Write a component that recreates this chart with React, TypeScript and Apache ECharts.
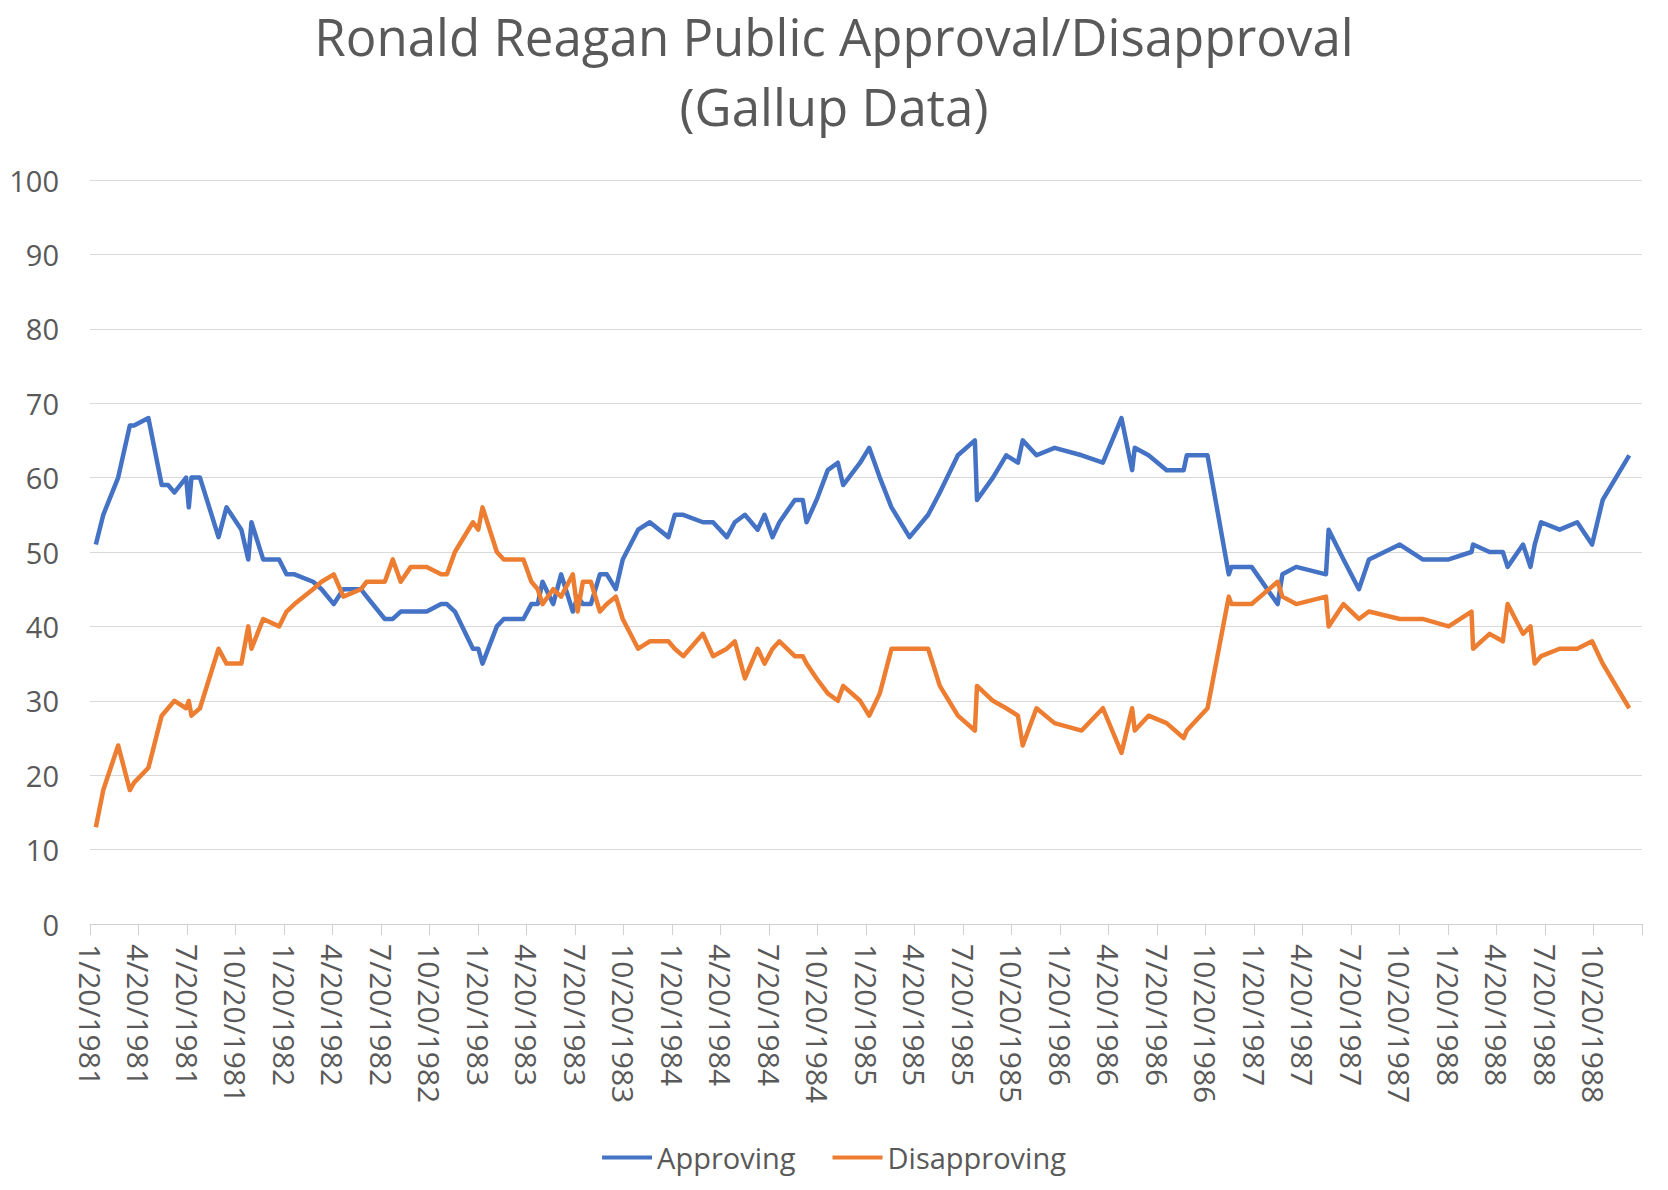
import React, { useEffect, useRef } from "react";
import * as echarts from "echarts";

const pollDates = [
  "1981-01-31", "1981-02-14", "1981-03-14", "1981-04-05", "1981-04-13", "1981-05-10",
  "1981-06-04", "1981-06-16", "1981-06-28", "1981-07-20", "1981-07-25", "1981-07-30",
  "1981-08-15", "1981-09-19", "1981-10-04", "1981-11-01", "1981-11-14", "1981-11-20",
  "1981-12-12", "1982-01-11", "1982-01-25", "1982-02-09", "1982-03-16", "1982-04-01",
  "1982-04-24", "1982-05-12", "1982-06-14", "1982-06-25", "1982-07-29", "1982-08-13",
  "1982-08-28", "1982-09-16", "1982-10-16", "1982-11-12", "1982-11-23", "1982-12-08",
  "1983-01-11", "1983-01-21", "1983-01-29", "1983-02-25", "1983-03-10", "1983-04-16",
  "1983-05-01", "1983-05-13", "1983-05-22", "1983-06-11", "1983-06-26", "1983-07-18",
  "1983-07-27", "1983-08-06", "1983-08-21", "1983-09-07", "1983-09-20", "1983-10-07",
  "1983-10-20", "1983-11-18", "1983-12-10", "1984-01-14", "1984-01-26", "1984-02-11",
  "1984-03-19", "1984-04-07", "1984-05-03", "1984-05-18", "1984-06-06", "1984-06-30",
  "1984-07-13", "1984-07-28", "1984-08-10", "1984-09-08", "1984-09-23", "1984-09-30",
  "1984-10-19", "1984-11-09", "1984-11-28", "1984-12-08", "1985-01-09", "1985-01-26",
  "1985-02-15", "1985-03-09", "1985-04-12", "1985-05-17", "1985-06-08", "1985-07-12",
  "1985-08-13", "1985-08-17", "1985-09-16", "1985-10-11", "1985-11-02", "1985-11-11",
  "1985-12-07", "1986-01-10", "1986-03-02", "1986-04-11", "1986-05-16", "1986-06-05",
  "1986-06-10", "1986-07-06", "1986-08-09", "1986-09-10", "1986-09-16", "1986-10-25",
  "1986-12-04", "1986-12-09", "1987-01-16", "1987-03-06", "1987-03-15", "1987-04-10",
  "1987-06-05", "1987-06-10", "1987-07-08", "1987-08-06", "1987-08-25", "1987-10-22",
  "1987-12-04", "1988-01-22", "1988-03-05", "1988-03-08", "1988-04-08", "1988-05-03",
  "1988-05-12", "1988-06-10", "1988-06-24", "1988-07-02", "1988-07-14", "1988-08-18",
  "1988-09-20", "1988-10-18", "1988-11-07", "1988-12-27",
];

const approving = [
  51, 55, 60, 67, 67, 68,
  59, 59, 58, 60, 56, 60,
  60, 52, 56, 53, 49, 54,
  49, 49, 47, 47, 46, 45,
  43, 45, 45, 44, 41, 41,
  42, 42, 42, 43, 43, 42,
  37, 37, 35, 40, 41, 41,
  43, 43, 46, 43, 47, 42,
  44, 43, 43, 47, 47, 45,
  49, 53, 54, 52, 55, 55,
  54, 54, 52, 54, 55, 53,
  55, 52, 54, 57, 57, 54,
  57, 61, 62, 59, 62, 64,
  60, 56, 52, 55, 58, 63,
  65, 57, 60, 63, 62, 65,
  63, 64, 63, 62, 68, 61,
  64, 63, 61, 61, 63, 63,
  47, 48, 48, 43, 47, 48,
  47, 53, 49, 45, 49, 51,
  49, 49, 50, 51, 50, 50,
  48, 51, 48, 51, 54, 53,
  54, 51, 57, 63,
];

const disapproving = [
  13, 18, 24, 18, 19, 21,
  28, 29, 30, 29, 30, 28,
  29, 37, 35, 35, 40, 37,
  41, 40, 42, 43, 45, 46,
  47, 44, 45, 46, 46, 49,
  46, 48, 48, 47, 47, 50,
  54, 53, 56, 50, 49, 49,
  46, 45, 43, 45, 44, 47,
  42, 46, 46, 42, 43, 44,
  41, 37, 38, 38, 37, 36,
  39, 36, 37, 38, 33, 37,
  35, 37, 38, 36, 36, 35,
  33, 31, 30, 32, 30, 28,
  31, 37, 37, 37, 32, 28,
  26, 32, 30, 29, 28, 24,
  29, 27, 26, 29, 23, 29,
  26, 28, 27, 25, 26, 29,
  44, 43, 43, 46, 44, 43,
  44, 40, 43, 41, 42, 41,
  41, 40, 42, 37, 39, 38,
  43, 39, 40, 35, 36, 37,
  37, 38, 35, 29,
];

const xTickLabels = [
  "1/20/1981", "4/20/1981", "7/20/1981", "10/20/1981",
  "1/20/1982", "4/20/1982", "7/20/1982", "10/20/1982",
  "1/20/1983", "4/20/1983", "7/20/1983", "10/20/1983",
  "1/20/1984", "4/20/1984", "7/20/1984", "10/20/1984",
  "1/20/1985", "4/20/1985", "7/20/1985", "10/20/1985",
  "1/20/1986", "4/20/1986", "7/20/1986", "10/20/1986",
  "1/20/1987", "4/20/1987", "7/20/1987", "10/20/1987",
  "1/20/1988", "4/20/1988", "7/20/1988", "10/20/1988",
];

const AXIS_START = "1981-01-20";
const AXIS_END = "1989-01-20";
const Y_MIN = 0;
const Y_MAX = 100;
const Y_STEP = 10;

const seriesNames = ["Approving", "Disapproving"];

function toUTC(s: string): number {
  const [y, m, d] = s.split("-").map(Number);
  return Date.UTC(y, m - 1, d);
}

function dayIndex(s: string): number {
  return (toUTC(s) - toUTC(AXIS_START)) / 86400000;
}

const FONT = "'Open Sans', 'Liberation Sans', sans-serif";
const TEXT = "#595959";

export default function App() {
  const ref = useRef<HTMLDivElement | null>(null);

  useEffect(() => {
    document.body.style.margin = "0";
    if (!ref.current) return;
    const chart = echarts.init(ref.current, null, { renderer: "svg" });
    const span = dayIndex(AXIS_END);
    const step = span / xTickLabels.length;

    const option = {
      animation: false,
      backgroundColor: "#ffffff",
      textStyle: { fontFamily: FONT },
      title: {
        text: "Ronald Reagan Public Approval/Disapproval\n(Gallup Data)",
        left: "center",
        top: -4,
        textStyle: {
          fontFamily: FONT,
          fontSize: 51,
          fontWeight: "normal",
          color: TEXT,
          lineHeight: 70,
        },
      },
      grid: { left: 90, right: 26, top: 180, bottom: 266, containLabel: false },
      legend: {
        data: seriesNames,
        left: "center",
        top: 1138,
        icon: "rect",
        itemWidth: 50,
        itemHeight: 4,
        itemGap: 37,
        textStyle: { fontFamily: FONT, fontSize: 29, color: TEXT },
      },
      xAxis: {
        type: "value",
        min: 0,
        max: span,
        interval: step,
        axisLine: { show: true, lineStyle: { color: "#d0d0d0", width: 1 } },
        axisTick: { show: true, length: 11, lineStyle: { color: "#d0d0d0", width: 1 } },
        splitLine: { show: false },
        axisLabel: {
          rotate: -90,
          margin: 20,
          fontFamily: FONT,
          fontSize: 30,
          color: TEXT,
          showMaxLabel: true,
          formatter: (v: number) => {
            const i = Math.round(v / step);
            return xTickLabels[i] ?? "";
          },
        },
      },
      yAxis: {
        type: "value",
        min: Y_MIN,
        max: Y_MAX,
        interval: Y_STEP,
        axisLine: { show: false },
        axisTick: { show: false },
        splitLine: { show: true, lineStyle: { color: "#d9d9d9", width: 1 } },
        axisLabel: { margin: 31, fontFamily: FONT, fontSize: 29, color: TEXT },
      },
      series: [
        {
          name: seriesNames[0],
          type: "line",
          symbol: "none",
          showSymbol: false,
          color: "#4472C4",
          lineStyle: { color: "#4472C4", width: 4.5, join: "round" },
          data: pollDates.map((d, i) => [dayIndex(d), approving[i]]),
        },
        {
          name: seriesNames[1],
          type: "line",
          symbol: "none",
          showSymbol: false,
          color: "#ED7D31",
          lineStyle: { color: "#ED7D31", width: 4.5, join: "round" },
          data: pollDates.map((d, i) => [dayIndex(d), disapproving[i]]),
        },
      ],
    };

    chart.setOption(option as any);
    return () => chart.dispose();
  }, []);

  return <div ref={ref} style={{ width: 1668, height: 1190 }} />;
}
